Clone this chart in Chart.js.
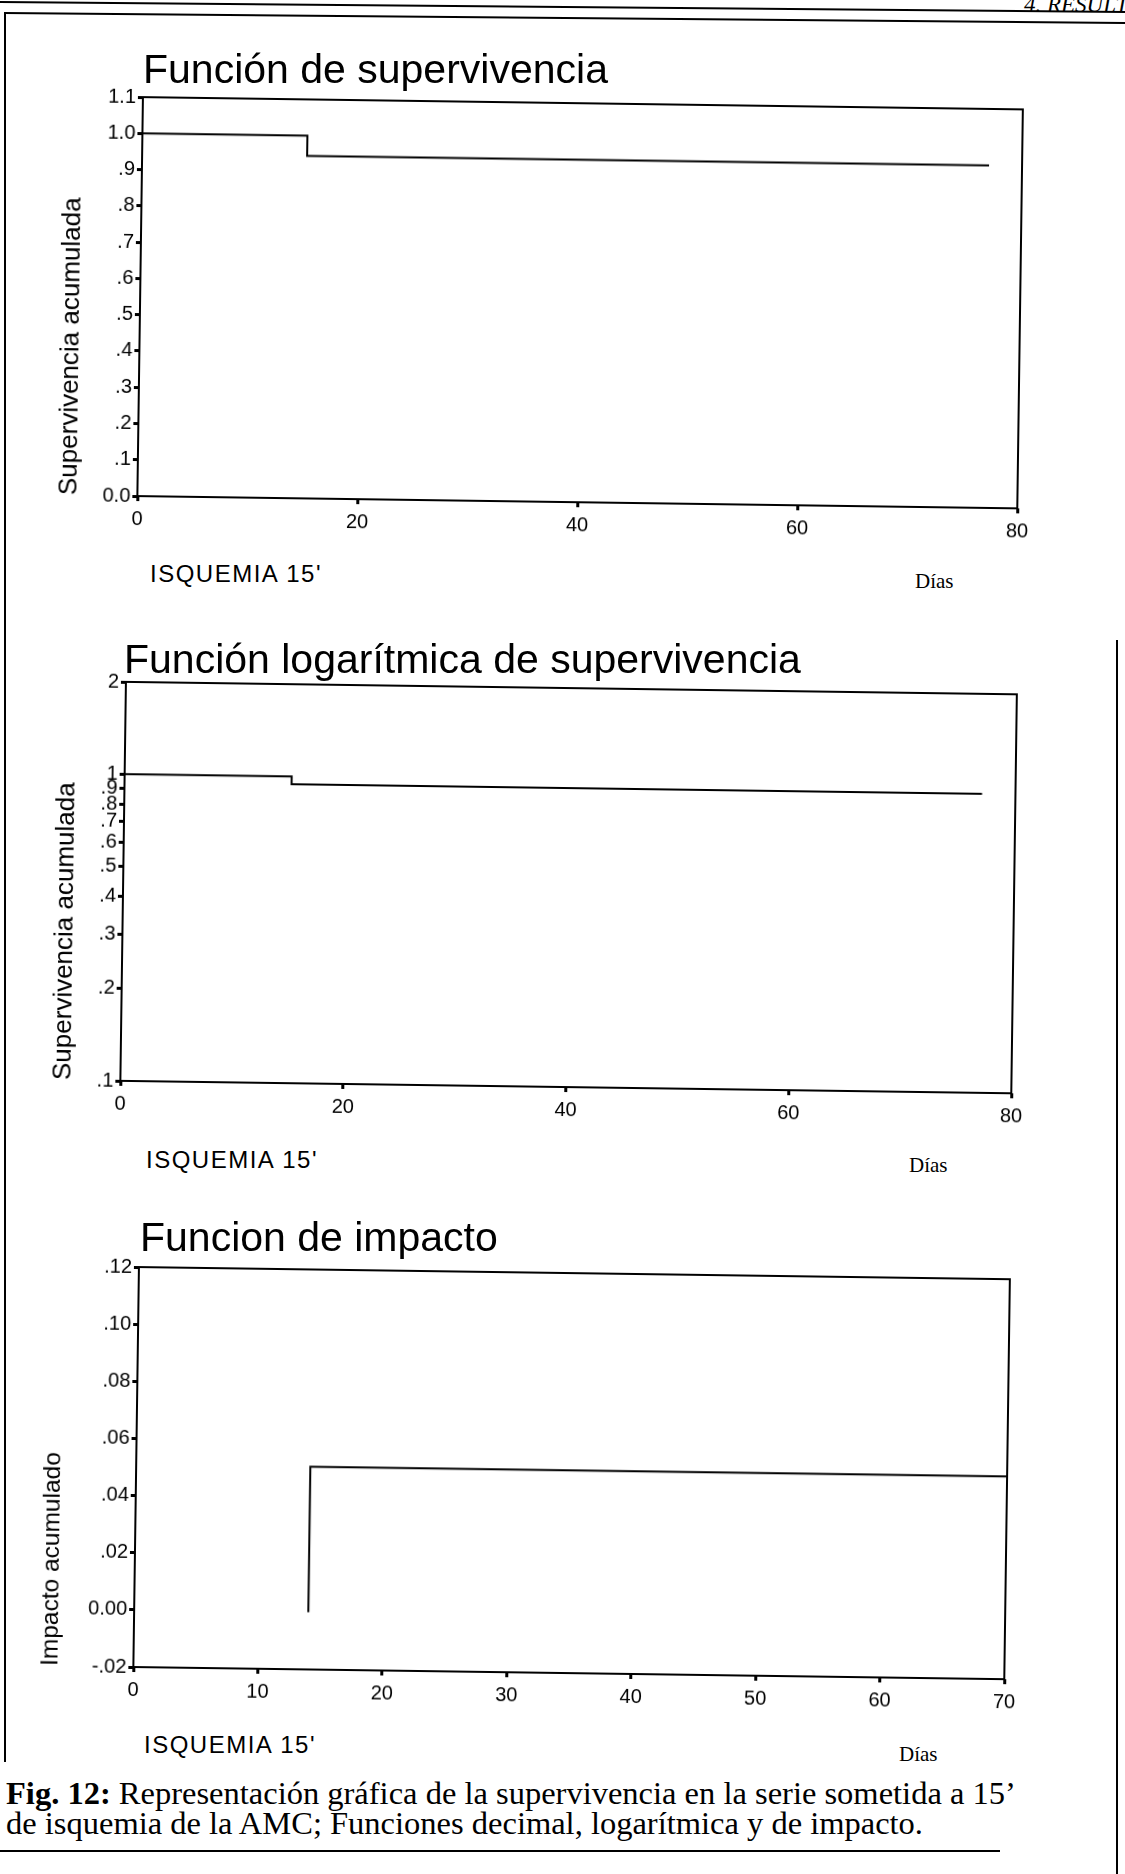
<!DOCTYPE html>
<html lang="es">
<head>
<meta charset="utf-8">
<title>Fig. 12 - ISQUEMIA 15'</title>
<script src="https://cdn.jsdelivr.net/npm/chart.js@4.4.1/dist/chart.umd.min.js"></script>
<style>
  html, body { margin: 0; padding: 0; background: #fff; }
  #page { position: relative; width: 1125px; height: 1874px; overflow: hidden; background: #fff; color: #000;
          font-family: "Liberation Sans", Arial, sans-serif; }
  canvas { position: absolute; left: 0; transform: rotate(0.8deg); }
  .rule { position: absolute; background: #000; }
  .titulo { position: absolute; font-size: 41px; line-height: 1; white-space: nowrap; }
  .grupo { position: absolute; font-size: 24px; letter-spacing: 1.5px; line-height: 1; white-space: nowrap; }
  .dias { position: absolute; font-family: "Liberation Serif", "Times New Roman", serif; font-size: 21px; line-height: 1; }
  .cabecera { position: absolute; font-family: "Liberation Serif", serif; font-style: italic; font-size: 23px;
              line-height: 1; white-space: nowrap; }
  .pie { position: absolute; left: 6px; font-family: "Liberation Serif", "Times New Roman", serif; font-size: 32.5px;
         line-height: 30px; white-space: nowrap; }
</style>
</head>
<body>
<div id="page">
  <canvas id="chartSuperv" width="1125" height="474" style="top:73px"></canvas>
  <canvas id="chartLog" width="1125" height="474" style="top:658px"></canvas>
  <canvas id="chartImpacto" width="1125" height="475" style="top:1243px"></canvas>

  <div class="cabecera" style="left:1024px; top:-7px;">4. RESULTADOS</div>
  <div class="rule" style="left:0; top:6px; width:1125px; height:2px; transform: rotate(0.5deg);"></div>
  <div class="rule" style="left:4px; top:17px; width:1121px; height:2px; transform: rotate(0.5deg);"></div>
  <div class="rule" style="left:4px; top:14px; width:2px; height:1748px;"></div>
  <div class="rule" style="left:1116px; top:640px; width:2px; height:1234px;"></div>
  <div class="rule" style="left:0; top:1850px; width:1000px; height:2px;"></div>

  <div class="titulo" style="left:143px; top:49px;">Función de supervivencia</div>
  <div class="grupo" style="left:150px; top:562px;">ISQUEMIA 15'</div>
  <div class="dias" style="left:915px; top:571px;">Días</div>

  <div class="titulo" style="left:124px; top:639px;">Función logarítmica de supervivencia</div>
  <div class="grupo" style="left:146px; top:1148px;">ISQUEMIA 15'</div>
  <div class="dias" style="left:909px; top:1155px;">Días</div>

  <div class="titulo" style="left:140px; top:1217px;">Funcion de impacto</div>
  <div class="grupo" style="left:144px; top:1733px;">ISQUEMIA 15'</div>
  <div class="dias" style="left:899px; top:1744px;">Días</div>

  <div class="pie" style="top:1778px;"><b>Fig. 12:</b> Representación gráfica de la supervivencia en la serie sometida a 15’<br>de isquemia de la AMC; Funciones decimal, logarítmica y de impacto.</div>
</div>

<script>
// datos
const survDays = [0, 15, 77];
const survValues = [1, 0.944, 0.944];
const impactDays = [14, 70];
const impactValues = [0, 0.051];

// ticks
const dayTicks = [0, 20, 40, 60, 80];
const impactDayTicks = [0, 10, 20, 30, 40, 50, 60, 70];
const survTicks = [0, 0.1, 0.2, 0.3, 0.4, 0.5, 0.6, 0.7, 0.8, 0.9, 1.0, 1.1];
const survTickLabels = ['0.0', '.1', '.2', '.3', '.4', '.5', '.6', '.7', '.8', '.9', '1.0', '1.1'];
const logTicks = [0.1, 0.2, 0.3, 0.4, 0.5, 0.6, 0.7, 0.8, 0.9, 1, 2];
const logTickLabels = ['.1', '.2', '.3', '.4', '.5', '.6', '.7', '.8', '.9', '1', '2'];
const impactTicks = [-0.02, 0, 0.02, 0.04, 0.06, 0.08, 0.10, 0.12];
const impactTickLabels = ['-.02', '0.00', '.02', '.04', '.06', '.08', '.10', '.12'];

Chart.defaults.font.family = '"Liberation Sans", Arial, sans-serif';
Chart.defaults.color = '#000';

// marco completo alrededor del area del grafico
const marcoPlugin = {
    id: 'marco',
    afterDatasetsDraw(chart) {
        const { ctx, chartArea } = chart;
        ctx.save();
        ctx.strokeStyle = '#000';
        ctx.lineWidth = 2;
        ctx.strokeRect(chartArea.left, chartArea.top,
                       chartArea.right - chartArea.left, chartArea.bottom - chartArea.top);
        ctx.restore();
    }
};

const tickGrid = { drawOnChartArea: false, drawTicks: true, tickLength: 5, tickWidth: 3, tickColor: '#000' };

function makeChart(canvasId, p) {
    const ctx = document.getElementById(canvasId).getContext('2d');
    const points = p.xs.map((x, i) => ({ x: x, y: p.ys[i] }));
    return new Chart(ctx, {
        type: 'line',
        data: {
            datasets: [{
                data: points,
                stepped: p.stepped,
                borderColor: '#000',
                borderWidth: 2,
                pointRadius: 0,
                fill: false
            }]
        },
        options: {
            responsive: false,
            animation: false,
            devicePixelRatio: 1,
            layout: { padding: { top: 30, left: p.padLeft, right: 1125 - p.plotRight, bottom: 0 } },
            plugins: { legend: { display: false }, tooltip: { enabled: false } },
            scales: {
                x: {
                    type: 'linear',
                    min: 0,
                    max: p.xMax,
                    afterBuildTicks: s => { s.ticks = p.xTicks.map(v => ({ value: v })); },
                    afterFit: s => { s.height = 45; },
                    ticks: { autoSkip: false, maxRotation: 0, padding: p.xPad, font: { size: 20 } },
                    grid: tickGrid,
                    border: { display: false }
                },
                y: {
                    type: p.yType,
                    min: p.yMin,
                    max: p.yMax,
                    afterBuildTicks: s => { s.ticks = p.yTicks.map(v => ({ value: v })); },
                    afterFit: s => { s.width = p.plotLeft - p.padLeft; },
                    ticks: { autoSkip: false, padding: 2, font: { size: 20 },
                             callback: (v, i) => p.yLabels[i] },
                    grid: tickGrid,
                    border: { display: false },
                    title: { display: true, text: p.yTitle, align: 'start',
                             font: { size: p.yTitleSize }, padding: { top: 4, bottom: 4 } }
                }
            }
        },
        plugins: [marcoPlugin]
    });
}

makeChart('chartSuperv', {
    xs: survDays, ys: survValues, stepped: true,
    xMax: 80, xTicks: dayTicks, xPad: 6,
    yType: 'linear', yMin: 0, yMax: 1.1, yTicks: survTicks, yLabels: survTickLabels,
    yTitle: 'Supervivencia acumulada', yTitleSize: 26, padLeft: 52, plotLeft: 140, plotRight: 1020
});

makeChart('chartLog', {
    xs: survDays, ys: survValues, stepped: true,
    xMax: 80, xTicks: dayTicks, xPad: 6,
    yType: 'logarithmic', yMin: 0.1, yMax: 2, yTicks: logTicks, yLabels: logTickLabels,
    yTitle: 'Supervivencia acumulada', yTitleSize: 26, padLeft: 46, plotLeft: 123, plotRight: 1014
});

makeChart('chartImpacto', {
    xs: impactDays, ys: impactValues, stepped: 'after',
    xMax: 70, xTicks: impactDayTicks, xPad: 6,
    yType: 'linear', yMin: -0.02, yMax: 0.12, yTicks: impactTicks, yLabels: impactTickLabels,
    yTitle: 'Impacto acumulado', yTitleSize: 24.5, padLeft: 35, plotLeft: 136, plotRight: 1007
});
</script>
</body>
</html>
